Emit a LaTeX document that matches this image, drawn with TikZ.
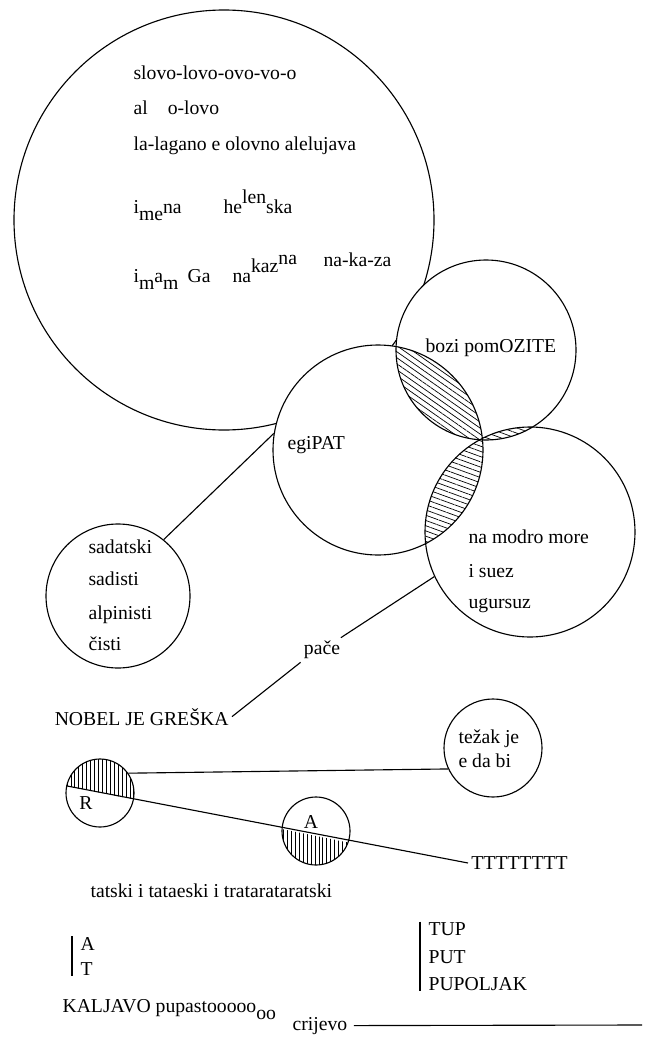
\documentclass[tikz,border=0pt]{standalone}
\usepackage{fontspec}
\setmainfont{Liberation Serif}
\usetikzlibrary{patterns.meta}
\newcommand\poemfont{\fontsize{14}{17}\selectfont}
\newcommand\lo[1]{\raisebox{-0.4em}{#1}}
\newcommand\hi[1]{\raisebox{0.5em}{#1}}
\tikzset{
  ring/.style={circle,draw,line width=0.8pt,minimum size={#1*0.5mm},inner sep=0pt},
  txt/.style={anchor=base west,inner sep=0pt,font=\poemfont},
  lbl/.style={inner sep=2pt,font=\poemfont},
  hatch/.style={pattern={Lines[angle=#1,distance=3.5pt,line width=0.5pt]}},
  vhatch/.style={pattern={Lines[angle=90,distance=2.8pt,line width=0.5pt]}}
}
\begin{document}
\begin{tikzpicture}[x=0.25mm,y=-0.25mm,line width=0.8pt]
\useasboundingbox (0,0) rectangle (646,1041);
% the big circle
\node[ring=210] (big) at (224,220) {};
\node[txt] (t1) at (133,80) {slovo-lovo-ovo-vo-o};
\node[txt] (t2) at (133,115) {al\hspace{5mm}o-lovo};
\node[txt] (t3) at (133,150) {la-lagano e olovno alelujava};
\node[txt] (t4) at (133,213) {i\lo{me}na};
\node[txt] (t5) at (223,213) {he\hi{len}ska};
\node[txt] (t6) at (133,282) {i\lo{m}a\lo{m}};
\node[txt] (t7) at (187,282) {Ga};
\node[txt] (t8) at (232,282) {na\hi{kaz}\raisebox{0.9em}{na}};
\node[txt] (t9) at (323,266) {na-ka-za};
% three circles
\coordinate (cb) at (486,350);
\coordinate (ce) at (378,450);
\coordinate (cr) at (530,532);
\fill[white] (cb) circle[radius=90] (ce) circle[radius=105] (cr) circle[radius=105];
\node[ring=90] (bozi) at (cb) {};
\node[ring=105] (egi) at (ce) {};
\node[ring=105] (right) at (cr) {};
\begin{scope}
  \clip (ce) circle[radius=105];
  \fill[hatch=-35] (cb) circle[radius=90];
  \fill[hatch=-20] (cr) circle[radius=105];
\end{scope}
\begin{scope}
  \clip (cb) circle[radius=90];
  \fill[hatch=-20] (cr) circle[radius=105];
\end{scope}
\node[txt] (tb) at (425,352) {bozi pomOZITE};
\node[txt] (te) at (287,449) {egiPAT};
\node[txt] (tr1) at (468,543) {na modro more};
\node[txt] (tr2) at (468,577) {i suez};
\node[txt] (tr3) at (468,608) {ugursuz};
% sadatski
\node[ring=72] (sad) at (118,596) {};
\node[txt] (ts1) at (88,553) {sadatski};
\node[txt] (ts2) at (88,585) {sadisti};
\node[txt] (ts3) at (88,619) {alpinisti};
\node[txt] (ts4) at (88,650) {čisti};
\draw (sad.51) -- (egi.171);
% pace and nobel
\node[lbl] (pace) at (322,650) {pače};
\node[lbl,anchor=base east] (nobel) at (232,725) {NOBEL JE GREŠKA};
\draw (right.205) -- (pace);
\draw (pace.south west) -- (nobel.east);
% small circles
\node[ring=49] (tezak) at (493,748) {};
\node[txt] (tz1) at (458,743) {težak je};
\node[txt] (tz2) at (458,767) {e da bi};
\node[ring=34] (rr) at (100,793) {};
\node[ring=34] (aa) at (316,831) {};
\node[lbl,anchor=west] (tt) at (468,863) {TTTTTTTT};
\begin{scope}
  \clip (100,793) circle[radius=34];
  \fill[vhatch] (60,784.6) -- (150,802.6) -- (150,750) -- (60,750) -- cycle;
\end{scope}
\begin{scope}
  \clip (316,831) circle[radius=34];
  \fill[vhatch] (270,826.7) -- (370,846.8) -- (370,880) -- (270,880) -- cycle;
\end{scope}
\node[lbl] (rl) at (86,803) {R};
\node[lbl] (al) at (311,822) {A};
\draw (rr.35) -- (tezak.205);
\draw (rr.168) -- (tt.west);
\node[txt] (tat) at (90,897) {tatski i tataeski i tratarataratski};
% bars
\node[txt] (ba) at (80,950) {A};
\node[txt] (bt) at (80,975) {T};
\draw ([xshift=-2mm]ba.north west) -- ([xshift=-2mm]bt.south west);
\node[txt] (tup) at (428,935) {TUP};
\node[txt] (put) at (428,963) {PUT};
\node[txt] (pupo) at (428,990) {PUPOLJAK};
\draw ([xshift=-2mm]tup.north west) -- ([xshift=-2mm]pupo.south west);
% last line
\node[txt] (kal) at (62,1012) {KALJAVO pupastooooo\lo{oo}};
\node[txt] (crij) at (292,1030) {crijevo};
\coordinate (kend) at (642,1025);
\draw ([xshift=1.5mm]crij.east) -- (kend);
\end{tikzpicture}
\end{document}
